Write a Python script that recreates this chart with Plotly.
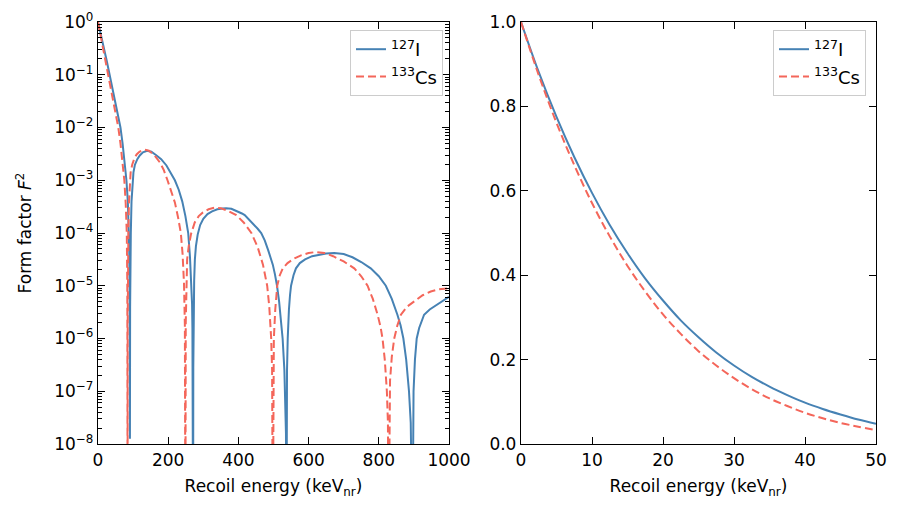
import plotly.graph_objects as go

# ---------------- data ----------------
# Left panel: recoil energy (keVnr) and log10(F^2); -10 marks a zero of the form factor
iodine_E_log = [0, 5, 10, 15, 20, 25, 30, 33, 40, 47, 55, 64, 70, 75, 81, 85, 88, 89, 90, 90.5, 91,
                91.5, 92, 92.7, 93.5, 95.5, 98, 101, 105, 112, 119, 128, 140, 152, 165, 180, 195, 207, 219, 230, 240, 249, 257, 262, 264, 266, 268, 269, 270, 270.5, 271,
                271.5, 272.5, 273.2, 274, 276, 279, 284, 291, 300, 312, 325, 340, 355, 365, 380, 395, 410, 418, 430, 445, 455, 465, 475, 485, 492, 498, 504, 510, 516, 521, 526, 531, 534, 535.5, 537,
                537.8, 538.5, 540.5, 542, 544, 547, 550, 557, 564, 575, 590, 610, 630, 650, 673, 700, 725, 750, 777, 800, 820, 837, 853, 862, 870, 878, 886, 891, 896,
                897.5, 899, 903, 908, 915, 929, 945, 967, 985, 1000]
iodine_log10_f2 = [0.0, -0.14, -0.28, -0.43, -0.58, -0.74, -0.9, -1.0, -1.2, -1.42, -1.68, -2.0, -2.3, -2.6, -3.0, -3.4, -4.0, -4.35, -5.0, -5.55, -7.9,
                   -5.4, -4.8, -4.45, -4.0, -3.4, -3.0, -2.85, -2.71, -2.6, -2.53, -2.47, -2.44, -2.46, -2.52, -2.6, -2.72, -2.85, -3.0, -3.18, -3.4, -3.68, -4.0, -4.45, -4.71, -5.0, -5.35, -5.8, -6.4, -7.0, -10.0,
                   -6.55, -5.6, -5.2, -4.9, -4.5, -4.25, -4.03, -3.85, -3.73, -3.64, -3.59, -3.55, -3.535, -3.53, -3.54, -3.58, -3.63, -3.66, -3.74, -3.85, -3.92, -4.0, -4.14, -4.33, -4.48, -4.6, -4.78, -5.0, -5.3, -5.6, -6.0, -6.6, -7.2, -7.8, -10.0,
                   -7.14, -6.6, -6.0, -5.7, -5.45, -5.18, -5.0, -4.8, -4.67, -4.57, -4.5, -4.44, -4.41, -4.39, -4.38, -4.4, -4.46, -4.55, -4.67, -4.82, -5.0, -5.25, -5.55, -5.75, -6.0, -6.4, -7.0, -7.6, -10.0,
                   -7.5, -7.0, -6.4, -6.0, -5.8, -5.55, -5.45, -5.36, -5.28, -5.21]

cesium_E_log = [0, 5, 10, 15, 20, 25, 29.4, 36, 43, 50, 57.8, 64, 70, 75, 79, 82, 83.5, 84, 84.3,
                84.6, 85, 86.5, 88, 90, 93, 97.6, 104, 110, 118, 126, 133.5, 145, 160, 176, 187, 198, 209, 219, 228, 236, 241, 245, 247.5, 248.5, 249,
                250, 251.5, 254, 258.5, 265, 275.6, 287, 299, 315, 332, 350, 370, 394, 415, 437, 455, 470, 482, 488, 493.4, 496, 498,
                499.5, 501, 505, 510.6, 518, 526.5, 540, 560, 580, 600, 621, 645, 670, 700, 730, 750, 768, 783, 796.6, 805, 810.6, 817, 823, 826, 828,
                829.5, 832, 837, 844, 853, 863, 880, 900, 925, 948, 970, 995, 1000]
cesium_log10_f2 = [0.0, -0.17, -0.34, -0.51, -0.68, -0.85, -1.0, -1.22, -1.46, -1.7, -2.0, -2.3, -2.62, -3.0, -3.45, -4.0, -5.0, -5.85, -10.0,
                   -5.74, -5.0, -4.0, -3.45, -3.05, -2.85, -2.7, -2.58, -2.51, -2.46, -2.43, -2.42, -2.44, -2.52, -2.66, -2.8, -3.0, -3.2, -3.42, -3.7, -4.0, -4.4, -4.95, -5.75, -6.6, -10.0,
                   -5.7, -4.95, -4.5, -4.25, -4.02, -3.8, -3.68, -3.61, -3.55, -3.52, -3.53, -3.58, -3.66, -3.8, -4.0, -4.27, -4.6, -5.0, -5.4, -6.0, -6.6, -10.0,
                   -6.6, -6.0, -5.45, -5.0, -4.8, -4.67, -4.57, -4.48, -4.42, -4.38, -4.36, -4.38, -4.44, -4.54, -4.67, -4.82, -5.0, -5.25, -5.55, -5.78, -6.0, -6.4, -7.0, -7.6, -10.0,
                   -7.5, -6.8, -6.35, -6.0, -5.75, -5.55, -5.4, -5.3, -5.18, -5.11, -5.07, -5.05, -5.05]

# Right panel: linear scale, 0-50 keVnr
E_lin = [0, 2.5, 5, 7.5, 10, 12.5, 15, 17.5, 20, 22.5, 25, 27.5, 30, 32.5, 35, 37.5, 40, 42.5, 45, 47.5, 50]
iodine_f2_lin = [1.0, 0.881, 0.775, 0.680, 0.595, 0.519, 0.452, 0.392, 0.340, 0.293, 0.253, 0.217, 0.186,
                 0.159, 0.136, 0.116, 0.098, 0.083, 0.070, 0.058, 0.048]
cesium_f2_lin = [1.0, 0.874, 0.761, 0.661, 0.571, 0.492, 0.422, 0.361, 0.307, 0.261, 0.220, 0.186, 0.156,
                 0.130, 0.108, 0.090, 0.074, 0.061, 0.050, 0.041, 0.033]

labels = ["<sup>127</sup>I", "<sup>133</sup>Cs"]
decade_vals = [10 ** k for k in range(-8, 1)]
decade_text = ["10<sup>0</sup>" if k == 0 else "10<sup>\u2212%d</sup>" % (-k) for k in range(-8, 1)]
minor_vals = [m * 10 ** k for k in range(-8, 0) for m in range(2, 10)]

BLUE = "#4682b4"
RED = "#f4665a"
FONT = "DejaVu Sans"
DASH = "8px,4px"

fig = go.Figure()
fig.add_trace(go.Scatter(x=iodine_E_log, y=[10 ** v for v in iodine_log10_f2], mode="lines",
                         line=dict(color=BLUE, width=2),
                         name=labels[0], legendgroup="a", xaxis="x", yaxis="y", legend="legend"))
fig.add_trace(go.Scatter(x=cesium_E_log, y=[10 ** v for v in cesium_log10_f2], mode="lines",
                         line=dict(color=RED, width=2, dash=DASH),
                         name=labels[1], legendgroup="b", xaxis="x", yaxis="y", legend="legend"))
fig.add_trace(go.Scatter(x=E_lin, y=iodine_f2_lin, mode="lines",
                         line=dict(color=BLUE, width=2, shape="spline"),
                         name=labels[0], legendgroup="c", xaxis="x2", yaxis="y2", legend="legend2"))
fig.add_trace(go.Scatter(x=E_lin, y=cesium_f2_lin, mode="lines",
                         line=dict(color=RED, width=2, dash=DASH, shape="spline"),
                         name=labels[1], legendgroup="d", xaxis="x2", yaxis="y2", legend="legend2"))

axis_common = dict(showline=True, linecolor="black", linewidth=1.3, mirror="allticks",
                   ticks="inside", ticklen=7, tickwidth=1.2, tickcolor="black", automargin=False,
                   showgrid=False, zeroline=False, tickfont=dict(size=17, color="black", family=FONT))

legend_common = dict(bgcolor="rgba(255,255,255,0.8)", bordercolor="#cccccc", borderwidth=1,
                     font=dict(size=18, color="black", family=FONT), yanchor="top", xanchor="right",
                     tracegroupgap=1, itemwidth=30)

title_font = dict(size=17, family=FONT, color="black")

fig.update_layout(
    template="none",
    width=900, height=518, margin=dict(l=0, r=0, t=0, b=0, autoexpand=False),
    paper_bgcolor="white", plot_bgcolor="white",
    font=dict(family=FONT, size=17, color="black"),
    showlegend=True,
    xaxis=dict(domain=[98 / 900, 449 / 900], range=[0, 1000], tickvals=[0, 200, 400, 600, 800, 1000],
               title=dict(text="Recoil energy (keV<sub>nr</sub>)", font=title_font, standoff=11),
               anchor="y", **axis_common),
    yaxis=dict(domain=[1 - 444 / 518, 1 - 22 / 518], type="log", range=[-8, 0],
               tickvals=decade_vals, ticktext=decade_text,
               minor=dict(tickvals=minor_vals, ticks="inside", ticklen=4, tickwidth=1, tickcolor="black"),
               title=dict(text="Form factor <i>F</i><sup>2</sup>", font=title_font, standoff=18),
               anchor="x", **axis_common),
    xaxis2=dict(domain=[521 / 900, 876 / 900], range=[0, 50], tickvals=[0, 10, 20, 30, 40, 50],
                title=dict(text="Recoil energy (keV<sub>nr</sub>)", font=title_font, standoff=11),
                anchor="y2", **axis_common),
    yaxis2=dict(domain=[1 - 444 / 518, 1 - 22 / 518], range=[0, 1.0],
                tickvals=[0, 0.2, 0.4, 0.6, 0.8, 1.0], ticktext=["0.0", "0.2", "0.4", "0.6", "0.8", "1.0"],
                anchor="x2", **axis_common),
    legend=dict(x=443 / 900, y=1 - 30 / 518, **legend_common),
    legend2=dict(x=866 / 900, y=1 - 30 / 518, **legend_common),
)

fig.write_html("out.html")
